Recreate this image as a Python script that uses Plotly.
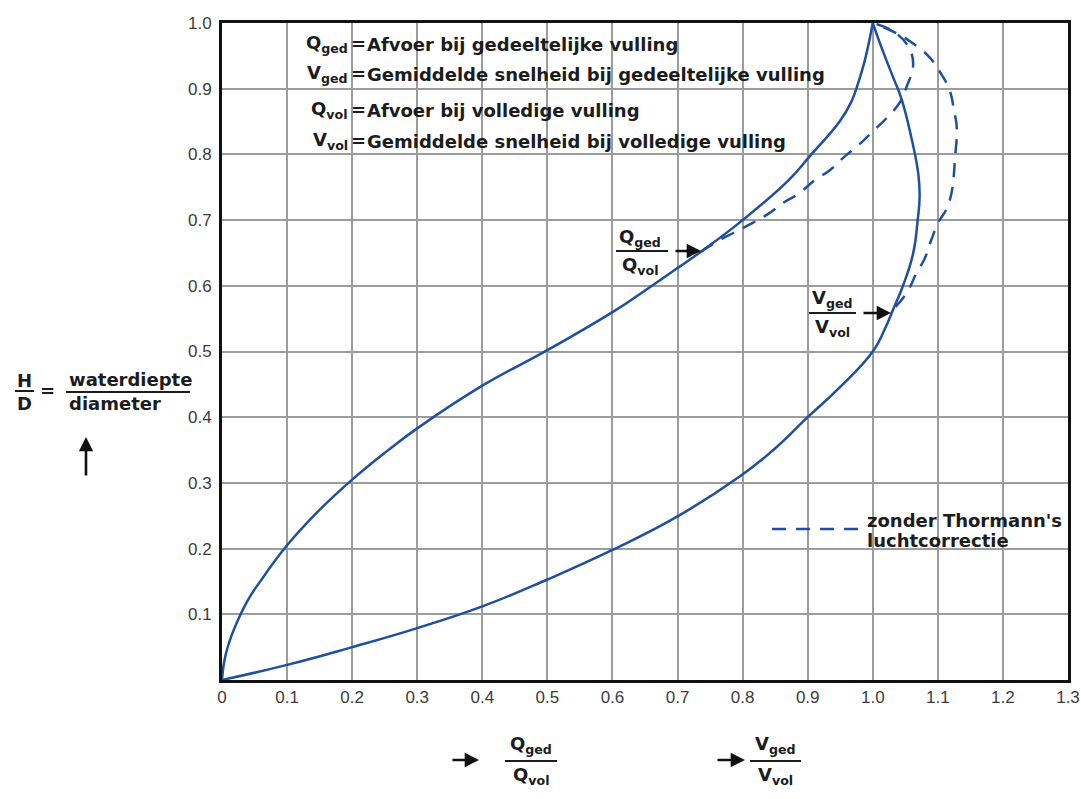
import plotly.graph_objects as go

# ---------------- data ----------------
# Q_ged/Q_vol (with Thormann's air correction) vs H/D
q_solid_x = [0, 0.003, 0.009, 0.020, 0.040, 0.058, 0.100, 0.148, 0.200, 0.253, 0.300,
             0.400, 0.500, 0.600, 0.640, 0.700, 0.736, 0.800, 0.872, 0.903, 0.949, 0.967,
             0.978, 0.987, 0.994, 1.000]
q_solid_h = [0, 0.026, 0.051, 0.081, 0.122, 0.149, 0.205, 0.257, 0.305, 0.348, 0.383,
             0.448, 0.502, 0.560, 0.586, 0.627, 0.652, 0.700, 0.762, 0.797, 0.850, 0.880,
             0.910, 0.940, 0.970, 1.000]

# V_ged/V_vol (with correction) vs H/D
v_solid_x = [0, 0.100, 0.200, 0.300, 0.400, 0.500, 0.600, 0.700, 0.796, 0.847, 0.900, 0.950,
             1.000, 1.018, 1.033, 1.046, 1.062, 1.069, 1.072, 1.070, 1.059, 1.044,
             1.031, 1.016, 1.000]
v_solid_h = [0, 0.023, 0.050, 0.079, 0.112, 0.153, 0.198, 0.249, 0.310, 0.350, 0.400, 0.446,
             0.500, 0.533, 0.568, 0.599, 0.649, 0.700, 0.736, 0.770, 0.827, 0.885,
             0.918, 0.956, 1.000]

# without Thormann's air correction (dashed)
q_dash_x = [0.736, 0.760, 0.785, 0.814, 0.837, 0.865, 0.886, 0.911, 0.934, 0.957, 0.978,
            1.000, 1.021, 1.042, 1.052, 1.062, 1.056, 1.035, 1.000]
q_dash_h = [0.652, 0.667, 0.680, 0.695, 0.708, 0.728, 0.740, 0.761, 0.776, 0.797, 0.814,
            0.835, 0.855, 0.880, 0.903, 0.936, 0.961, 0.985, 1.000]

v_dash_x = [1.035, 1.052, 1.067, 1.080, 1.090, 1.100, 1.117, 1.127, 1.129, 1.125, 1.118,
            1.106, 1.088, 1.067, 1.039, 1.000]
v_dash_h = [0.568, 0.589, 0.619, 0.642, 0.670, 0.695, 0.726, 0.802, 0.842, 0.866, 0.898,
            0.921, 0.947, 0.965, 0.983, 1.000]

x_ticks = [0, 0.1, 0.2, 0.3, 0.4, 0.5, 0.6, 0.7, 0.8, 0.9, 1.0, 1.1, 1.2, 1.3]
x_tick_text = ["0", "0.1", "0.2", "0.3", "0.4", "0.5", "0.6", "0.7", "0.8", "0.9",
               "1.0", "1.1", "1.2", "1.3"]
y_ticks = [0.1, 0.2, 0.3, 0.4, 0.5, 0.6, 0.7, 0.8, 0.9, 1.0]
y_tick_text = ["0.1", "0.2", "0.3", "0.4", "0.5", "0.6", "0.7", "0.8", "0.9", "1.0"]

definitions = [
    ("Q", "ged", "Afvoer bij gedeeltelijke vulling"),
    ("V", "ged", "Gemiddelde snelheid bij gedeeltelijke vulling"),
    ("Q", "vol", "Afvoer bij volledige vulling"),
    ("V", "vol", "Gemiddelde snelheid bij volledige vulling"),
]
legend_lines = ["zonder Thormann's", "luchtcorrectie"]
y_title = ["H", "D", "waterdiepte", "diameter"]

# ---------------- styling ----------------
W, H = 1081, 799
L, R, T, B = 222, 1068, 23, 680
BLUE = "#1f4f9f"
TXT = "#1c1c1c"
FONT_B = dict(family="DejaVu Sans", size=18, color=TXT, weight="bold")
DASH = "14px,10px"
LINE = dict(color=BLUE, width=2.5, shape="spline", smoothing=1.3)


def PX(px):
    return (px - L) / (R - L)


def PY(py):
    return (B - py) / (B - T)


fig = go.Figure()
fig.add_trace(go.Scatter(x=q_solid_x, y=q_solid_h, mode="lines", line=LINE))
fig.add_trace(go.Scatter(x=v_solid_x, y=v_solid_h, mode="lines", line=LINE))
fig.add_trace(go.Scatter(x=q_dash_x, y=q_dash_h, mode="lines", line=dict(LINE, dash=DASH)))
fig.add_trace(go.Scatter(x=v_dash_x, y=v_dash_h, mode="lines", line=dict(LINE, dash=DASH)))

ann = []
shapes = []


def text(px, py, s, anchor="center", font=FONT_B):
    ann.append(dict(x=PX(px), y=PY(py), xref="paper", yref="paper", text=s,
                    showarrow=False, xanchor=anchor, yanchor="middle", font=font))


def bar(x0, x1, py, w=2):
    shapes.append(dict(type="line", xref="paper", yref="paper", x0=PX(x0), x1=PX(x1),
                       y0=PY(py), y1=PY(py), line=dict(color=TXT, width=w)))


def arrow(hx, hy, ax, ay):
    ann.append(dict(x=PX(hx), y=PY(hy), xref="paper", yref="paper", text="",
                    showarrow=True, ax=ax, ay=ay, arrowhead=2, arrowsize=1.1,
                    arrowwidth=2.6, arrowcolor="#111"))


def fraction(cx, y_num, y_bar, y_den, sym, x0, x1):
    text(cx, y_num, f"{sym}<sub>ged</sub>")
    bar(x0, x1, y_bar)
    text(cx, y_den, f"{sym}<sub>vol</sub>")


# definitions block
for (sym, sub, desc), py in zip(definitions, [44, 74, 110, 141]):
    text(350, py, f"{sym}<sub>{sub}</sub>", anchor="right")
    text(358, py - 1, "=")
    text(365, py, desc, anchor="left")

# in-plot fraction labels with arrows
fraction(640, 238, 251, 266, "Q", 616, 668)
arrow(701, 251, -27, 0)
fraction(832, 299, 313, 328, "V", 809, 856)
arrow(891, 313, -29, 0)

# legend sample
shapes.append(dict(type="line", xref="paper", yref="paper", x0=PX(772), x1=PX(862),
                   y0=PY(529), y1=PY(529), line=dict(color=BLUE, width=2.5, dash=DASH)))
text(865, 520, legend_lines[0], anchor="left")
text(865, 540, legend_lines[1], anchor="left")

# y-axis title
text(24, 380, y_title[0])
bar(15, 34, 391)
text(24, 403, y_title[1])
text(47, 390, "=")
text(67, 379, y_title[2], anchor="left")
bar(66, 190, 392)
text(67, 403, y_title[3], anchor="left")
arrow(86, 437, 0, 40)

# x-axis titles
arrow(479, 760, -28, 0)
fraction(531, 745, 761, 776, "Q", 505, 557)
arrow(745, 760, -29, 0)
fraction(775, 745, 761, 776, "V", 750, 801)

fig.update_layout(
    width=W, height=H,
    margin=dict(l=L, r=W - R, t=T, b=H - B, pad=0, autoexpand=False),
    paper_bgcolor="white", plot_bgcolor="white",
    showlegend=False,
    annotations=ann, shapes=shapes,
    xaxis=dict(range=[0, 1.3], tickvals=x_ticks, ticktext=x_tick_text, automargin=False,
               showgrid=True, gridcolor="#9c9c9c", gridwidth=1.6,
               showline=True, linecolor="#111", linewidth=3, mirror=True,
               zeroline=False, ticks="", ticklabelstandoff=0,
               tickfont=dict(family="Liberation Sans", size=17, color="#3c3c3c")),
    yaxis=dict(range=[0, 1.0], tickvals=y_ticks, ticktext=y_tick_text, automargin=False,
               showgrid=True, gridcolor="#9c9c9c", gridwidth=1.6,
               showline=True, linecolor="#111", linewidth=3, mirror=True,
               zeroline=False, ticks="", ticklabelstandoff=4,
               tickfont=dict(family="Liberation Sans", size=17, color="#3c3c3c")),
)

fig.write_html("out.html")
